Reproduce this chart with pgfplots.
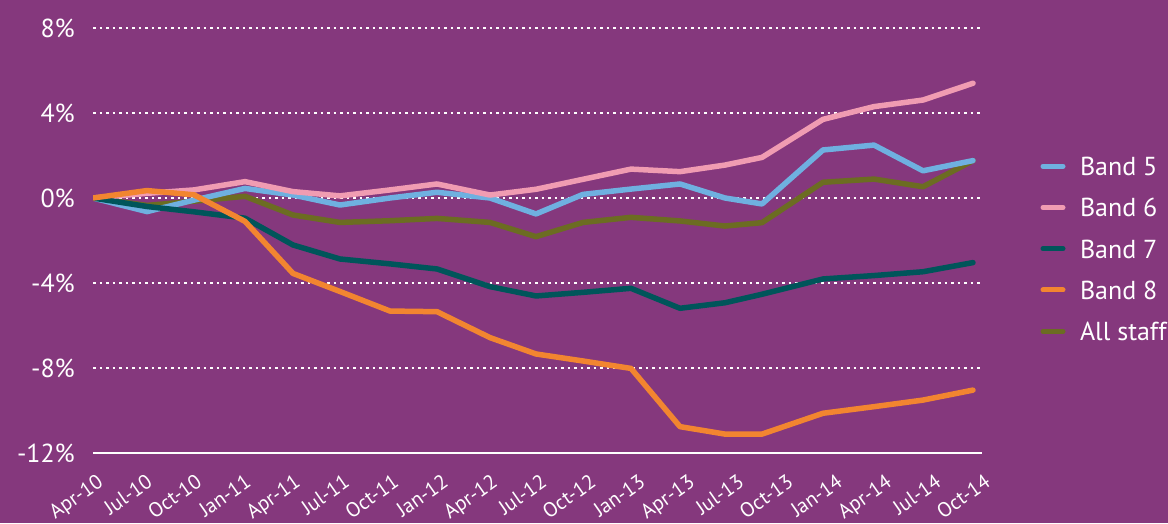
\documentclass[border=0pt]{standalone}
\usepackage{pgfplots}
\pgfplotsset{compat=1.18}
\usepackage{fontspec}
\setmainfont{PT Sans}
\definecolor{bgp}{HTML}{85387D}
\definecolor{cblue}{HTML}{6FB0E0}
\definecolor{cpink}{HTML}{F09CB2}
\definecolor{cteal}{HTML}{00555A}
\definecolor{corange}{HTML}{F28530}
\definecolor{colive}{HTML}{6C6C22}
\begin{document}
\begin{tikzpicture}
\useasboundingbox (0,0) rectangle (1168pt,523pt);
\fill[bgp] (0,0) rectangle (1168pt,523pt);
\begin{axis}[
  at={(93pt,70pt)}, anchor=south west,
  width=889pt, height=425pt, scale only axis,
  xmin=93, xmax=982, ymin=-12, ymax=8,
  axis x line=bottom, axis y line=left,
  x axis line style={white, line width=2.5pt, -},
  y axis line style={draw=none},
  major tick length=0pt,
  xtick={93,142.3,191.6,240.9,290.2,339.5,388.8,438.1,487.4,536.7,586,635.3,684.6,733.9,783.2,832.5,881.8,931.1,980.4},
  xticklabels={Apr-10,Jul-10,Oct-10,Jan-11,Apr-11,Jul-11,Oct-11,Jan-12,Apr-12,Jul-12,Oct-12,Jan-13,Apr-13,Jul-13,Oct-13,Jan-14,Apr-14,Jul-14,Oct-14},
  xticklabel style={font=\fontsize{20.5}{20.5}\selectfont, text=white, inner sep=0pt, xshift=3pt, yshift=-20pt, rotate=35, anchor=north east},
  ytick={-12,-8,-4,0,4,8},
  yticklabels={-12\%,-8\%,-4\%,0\%,4\%,8\%},
  yticklabel style={font=\fontsize{26}{26}\selectfont, text=white, inner sep=0pt, anchor=east, xshift=-18pt},
  ymajorgrids,
  grid style={white, line width=2.5pt, dash pattern=on 2.5pt off 4pt},
  every axis plot/.append style={line width=5.5pt, line join=round, line cap=round, no markers},
  legend cell align=left,
  legend image code/.code={\draw[#1, line width=5pt, line cap=round] (0pt,0pt) -- (20pt,0pt);},
  legend style={at={(1.0658,0.4806)}, anchor=west, draw=none, fill=none, inner sep=0pt, outer sep=0pt,
    font=\fontsize{26}{26}\selectfont, text=white,
    nodes={inner sep=0pt, text height=19pt, text depth=0pt},
    row sep=22.25pt, column sep=14.5pt},
]
\addplot[colive, forget plot] coordinates {(93,0) (147,-0.35) (194,-0.15) (245,0.08) (293,-0.8) (340,-1.15) (390,-1.07) (437,-0.96) (490,-1.15) (536,-1.82) (583,-1.15) (631,-0.91) (680,-1.08) (725,-1.32) (762,-1.16) (823,0.74) (874,0.89) (923,0.53) (973,1.76)};
\addplot[cblue] coordinates {(93,0) (147,-0.64) (194,-0.1) (245,0.45) (293,0.14) (340,-0.33) (390,0.0) (437,0.27) (490,0.0) (536,-0.75) (583,0.17) (631,0.42) (680,0.66) (725,0.0) (762,-0.28) (823,2.26) (874,2.49) (923,1.28) (973,1.76)};
\addlegendentry{Band 5}
\addplot[cpink] coordinates {(93,0) (147,0.22) (194,0.38) (245,0.77) (293,0.3) (340,0.1) (390,0.38) (437,0.66) (490,0.14) (536,0.41) (583,0.88) (631,1.36) (680,1.24) (725,1.55) (762,1.91) (823,3.7) (874,4.3) (923,4.61) (973,5.4)};
\addlegendentry{Band 6}
\addplot[cteal] coordinates {(93,0) (147,-0.4) (194,-0.65) (245,-0.95) (293,-2.21) (340,-2.87) (390,-3.1) (437,-3.34) (490,-4.17) (536,-4.61) (583,-4.44) (631,-4.25) (680,-5.19) (725,-4.93) (762,-4.53) (823,-3.81) (874,-3.65) (923,-3.47) (973,-3.04)};
\addlegendentry{Band 7}
\addplot[corange] coordinates {(93,0) (147,0.35) (194,0.15) (245,-1.1) (293,-3.55) (340,-4.4) (390,-5.32) (437,-5.35) (490,-6.57) (536,-7.34) (583,-7.67) (631,-8.02) (680,-10.76) (725,-11.11) (762,-11.11) (823,-10.13) (874,-9.82) (923,-9.51) (973,-9.04)};
\addlegendentry{Band 8}
\addlegendimage{colive, line width=5pt, line cap=round}
\addlegendentry{All staff}
\end{axis}
\end{tikzpicture}
\end{document}
